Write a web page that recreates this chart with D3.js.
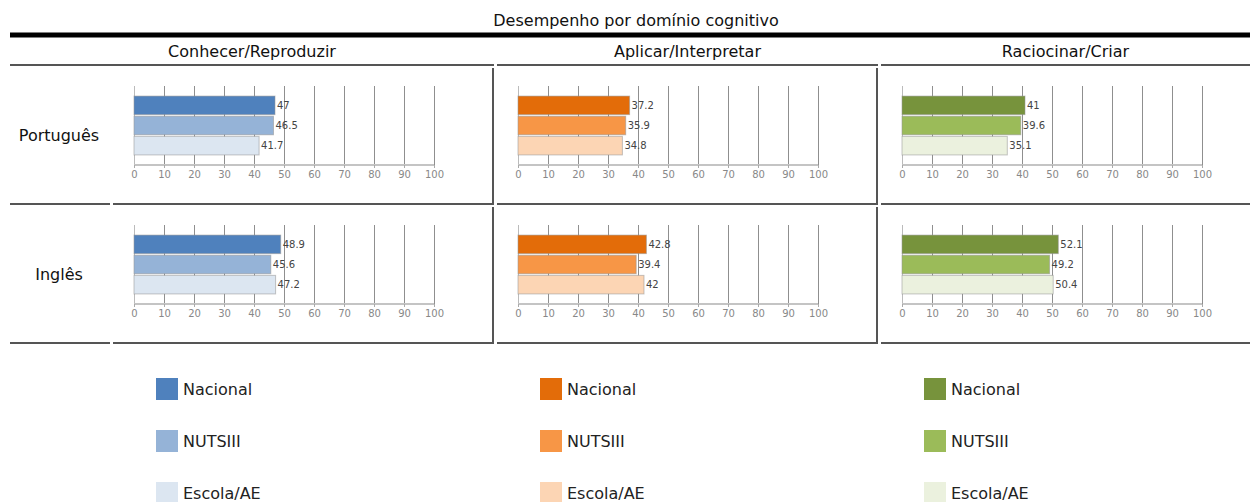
<!DOCTYPE html>
<html>
<head>
<meta charset="utf-8">
<script src="https://cdn.jsdelivr.net/npm/d3@7"></script>
<style>
  html, body { margin: 0; padding: 0; background: #fff; }
  svg { display: block; font-family: "DejaVu Sans", Verdana, sans-serif; }
</style>
</head>
<body>
<svg id="chart" width="1250" height="502"></svg>
<script>
// Cognitive domains (columns), subjects (rows) and comparison series
const domains = ["Conhecer/Reproduzir", "Aplicar/Interpretar", "Raciocinar/Criar"];
const subjects = ["Português", "Inglês"];
const seriesNames = ["Nacional", "NUTSIII", "Escola/AE"];

// Scores per domain: [Nacional, NUTSIII, Escola/AE]
const portugues = [
  [47, 46.5, 41.7],
  [37.2, 35.9, 34.8],
  [41, 39.6, 35.1]
];
const ingles = [
  [48.9, 45.6, 47.2],
  [42.8, 39.4, 42],
  [52.1, 49.2, 50.4]
];
const subjectValues = [portugues, ingles];

const tickValues = [0, 10, 20, 30, 40, 50, 60, 70, 80, 90, 100];

// One palette per domain, darkest for Nacional
const blues = ["#4f81bd", "#95b3d7", "#dce6f1"];
const oranges = ["#e36c09", "#f79646", "#fcd5b4"];
const greens = ["#77933c", "#9bbb59", "#ebf1de"];
const palettes = [blues, oranges, greens];

const svg = d3.select("#chart");
const borderColor = "#555";

// Title and thick rule
svg.append("text")
  .attr("x", 636).attr("y", 20)
  .attr("text-anchor", "middle").attr("dominant-baseline", "central")
  .attr("font-size", 16).attr("fill", "#111")
  .text("Desempenho por domínio cognitivo");
svg.append("rect").attr("x", 10).attr("y", 32.5).attr("width", 1240).attr("height", 5).attr("fill", "#000");

// Table geometry
const cellLeft = [113, 497, 881];
const cellRight = [494, 878, 1250];
const headerLeft = [10, 497, 881];
const rowTop = [68, 207];
const rowBottom = [203, 342];

// Column headers
domains.forEach((d, i) => {
  svg.append("text")
    .attr("x", (headerLeft[i] + cellRight[i]) / 2).attr("y", 51)
    .attr("text-anchor", "middle").attr("dominant-baseline", "central")
    .attr("font-size", 16).attr("fill", "#111")
    .text(d);
  svg.append("rect").attr("x", headerLeft[i]).attr("y", 64).attr("width", cellRight[i] - headerLeft[i]).attr("height", 2).attr("fill", borderColor);
});

// Row labels and cell borders
subjects.forEach((s, r) => {
  svg.append("text")
    .attr("x", 59).attr("y", (rowTop[r] + rowBottom[r]) / 2)
    .attr("text-anchor", "middle").attr("dominant-baseline", "central")
    .attr("font-size", 16).attr("fill", "#111")
    .text(s);
  svg.append("rect").attr("x", 10).attr("y", rowBottom[r]).attr("width", 100).attr("height", 2).attr("fill", borderColor);
  domains.forEach((d, i) => {
    svg.append("rect").attr("x", cellLeft[i]).attr("y", rowBottom[r]).attr("width", cellRight[i] - cellLeft[i]).attr("height", 2).attr("fill", borderColor);
    if (i < 2) {
      svg.append("rect").attr("x", cellRight[i] - 2).attr("y", rowTop[r]).attr("width", 2).attr("height", rowBottom[r] - rowTop[r]).attr("fill", borderColor);
    }
  });
});

// Bar panels
const plotTop = [86, 225];
const plotH = 79;
const plotW = 300;
const plotOffset = 21;

subjects.forEach((s, r) => {
  domains.forEach((d, i) => {
    const x0 = cellLeft[i] + plotOffset;
    const y0 = plotTop[r];
    const g = svg.append("g").attr("transform", `translate(${x0},${y0})`);
    const x = d3.scaleLinear().domain([0, 100]).range([0, plotW]);
    const y = d3.scaleBand().domain(seriesNames).range([0, plotH]).paddingInner(0.08).paddingOuter(0.5);

    // vertical grid lines
    g.append("g").selectAll("line").data(tickValues).join("line")
      .attr("x1", v => Math.round(x(v)) + 0.5).attr("x2", v => Math.round(x(v)) + 0.5)
      .attr("y1", 0).attr("y2", plotH + 3)
      .attr("stroke", v => v === 0 ? "#bbb" : "#8f8f8f").attr("stroke-width", 1);

    // bottom axis
    const axis = g.append("g").attr("transform", `translate(0,${plotH})`)
      .call(d3.axisBottom(x).tickValues(tickValues).tickSize(3).tickPadding(3).tickFormat(d3.format("d")));
    axis.select(".domain").attr("stroke", "#c4c4c4").attr("stroke-width", 2).attr("d", `M0,0H${plotW}`);
    axis.selectAll(".tick line").attr("stroke", "#aaa");
    axis.selectAll(".tick text").attr("fill", "#888").attr("font-size", 10).attr("font-family", "DejaVu Sans, sans-serif");

    const vals = subjectValues[r][i];
    const rows = seriesNames.map((n, k) => ({ name: n, value: vals[k], color: palettes[i][k] }));

    g.append("g").selectAll("rect").data(rows).join("rect")
      .attr("x", 0).attr("y", v => y(v.name))
      .attr("width", v => x(v.value)).attr("height", y.bandwidth())
      .attr("fill", v => v.color)
      .attr("stroke", "rgba(150,150,150,0.55)").attr("stroke-width", 1);

    g.append("g").selectAll("text").data(rows).join("text")
      .attr("x", v => x(v.value) + 2).attr("y", v => y(v.name) + y.bandwidth() / 2)
      .attr("dominant-baseline", "central")
      .attr("font-size", 10).attr("fill", "#444")
      .text(v => v.value);
  });
});

// Legends, one per domain
const legendRowY = [389, 441, 493];
domains.forEach((d, i) => {
  const lx = cellLeft[i] + 43;
  seriesNames.forEach((n, k) => {
    svg.append("rect").attr("x", lx).attr("y", legendRowY[k] - 11).attr("width", 22).attr("height", 22).attr("fill", palettes[i][k]);
    svg.append("text").attr("x", lx + 27).attr("y", legendRowY[k])
      .attr("dominant-baseline", "central").attr("font-size", 16).attr("fill", "#222")
      .text(n);
  });
});
</script>
</body>
</html>
